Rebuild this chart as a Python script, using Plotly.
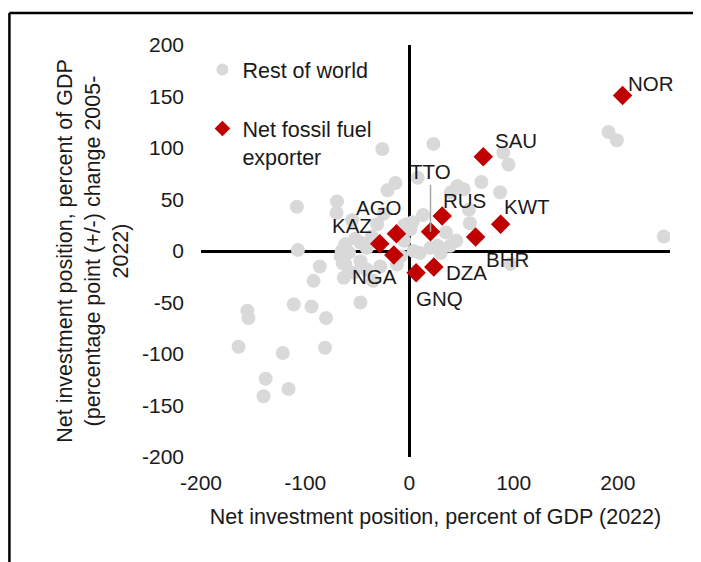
import plotly.graph_objects as go

# Rest of world: net investment position (2022) and change 2005-2022, % of GDP
row_x = [191, 199, 244, 90, 95, 69, 87, 46, 40, 52, 57, 58, 39, 27, 20, 10, 4,
         23, -26, 8, -13.5, -21, -69.5, -70, -108, -107, -86, -92, -111, -94, -80,
         -47, -155.5, -154.5, -164, -121.5, -81, -138, -116, -140, 97, 3, 13, -2, 1,
         -31, -25, -55, -61.5, -58, -47, -47, -41, -61.5, -53.5, -41, -28, -12, -63,
         -35, -66, -52, -36, 35, 45, -5, -8, -5, 30, -65, -64]
row_y = [115.5, 107.5, 14, 95.5, 84, 67, 57, 63, 57, 60, 40, 27, 5, 5, 3, -2, 0,
         104, 99, 71, 66, 59, 48, 37, 43, 1, -15, -29, -52, -54, -65,
         -50, -58, -65, -93, -99, -94, -124, -134, -141, -12.5, 28, 35, 26, 21,
         26, 36, 30, 6.5, -1.6, 8, -10, 3, -13, -21, -18, -15, -13, -26,
         -29, -5, 12, 14, 18, 10, 10, -5, 25, -2, 0, -12]

# Net fossil fuel exporters
ff_names = ["NOR", "SAU", "KWT", "RUS", "TTO", "BHR", "DZA", "GNQ", "AGO", "KAZ", "NGA"]
ff_x = [204.5, 70.8, 87.5, 31.4, 20.2, 63.5, 23.4, 6.4, -12.5, -28.5, -15]
ff_y = [151, 91.6, 26, 34, 18.8, 13.6, -15.5, -21, 16.8, 7, -4]
# label offsets in pixels (x right, y up)
ff_dx = [28, 33, 26, 22, 0, 32, 33, 23, -17, -28, -19]
ff_dy = [12, 16, 18, 15, 60, -23, -6, -26, 26, 18, -21]

x_ticks = [-200, -100, 0, 100, 200]
x_tick_text = ["-200", "-100", "0", "100", "200"]
y_ticks = [-200, -150, -100, -50, 0, 50, 100, 150, 200]
y_tick_text = ["-200", "-150", "-100", "-50", "0", "50", "100", "150", "200"]

FONT = "Arial, Liberation Sans, sans-serif"
TXT = "#1a1a1a"

fig = go.Figure()
fig.add_trace(go.Scatter(
    x=row_x, y=row_y, mode="markers", name="Rest of world",
    legendgroup="a",
    marker=dict(symbol="circle", size=14, color="#D9D9D9"),
))
fig.add_trace(go.Scatter(
    x=ff_x, y=ff_y, mode="markers", name="Net fossil fuel<br>exporter",
    legendgroup="b",
    marker=dict(symbol="diamond", size=15, color="#C00000"),
))

for n, x, y, dx, dy in zip(ff_names, ff_x, ff_y, ff_dx, ff_dy):
    if n == "TTO":
        fig.add_annotation(x=x, y=y, text=n, showarrow=True, arrowhead=0,
                           arrowwidth=1.5, arrowcolor="#A6A6A6", ax=dx, ay=-dy,
                           standoff=0, font=dict(size=20.5, color=TXT, family=FONT))
    else:
        fig.add_annotation(x=x, y=y, text=n, showarrow=False, xshift=dx, yshift=dy,
                           font=dict(size=20.5, color=TXT, family=FONT))

# frame lines (left and top)
fig.add_shape(type="line", xref="paper", yref="paper", x0=-0.4085, x1=1.07, y0=1.0777, y1=1.0777,
              line=dict(color="black", width=2.5))
fig.add_shape(type="line", xref="paper", yref="paper", x0=-0.4085, x1=-0.4085, y0=1.0777, y1=-0.3,
              line=dict(color="black", width=2.5))

fig.update_layout(
    width=693, height=554,
    margin=dict(l=193, r=31, t=37, b=105),
    paper_bgcolor="white", plot_bgcolor="white",
    font=dict(family=FONT, size=21, color=TXT),
    showlegend=True,
    legend=dict(x=0.003, y=0.99, xanchor="left", yanchor="top", valign="top",
                itemsizing="constant", tracegroupgap=28, bgcolor="rgba(0,0,0,0)",
                font=dict(size=21.5, color=TXT, family=FONT)),
    xaxis=dict(range=[-200, 250], tickvals=x_ticks, ticktext=x_tick_text,
               showgrid=False, zeroline=True,
               zerolinecolor="black", zerolinewidth=3, showline=False, ticks="",
               ticklabelstandoff=11, tickfont=dict(size=21),
               title=dict(text="Net investment position, percent of GDP (2022)", standoff=15,
                          font=dict(size=21.5))),
    yaxis=dict(range=[-200, 200], tickvals=y_ticks, ticktext=y_tick_text,
               showgrid=False, zeroline=True,
               zerolinecolor="black", zerolinewidth=3, showline=False, ticks="",
               ticklabelstandoff=16, tickfont=dict(size=21),
               title=dict(text="Net investment position, percent of GDP<br>(percentage point (+/-) change 2005-<br>2022)",
                          standoff=7, font=dict(size=21.5))),
)

fig.write_html("out.html", config={"displayModeBar": False})
